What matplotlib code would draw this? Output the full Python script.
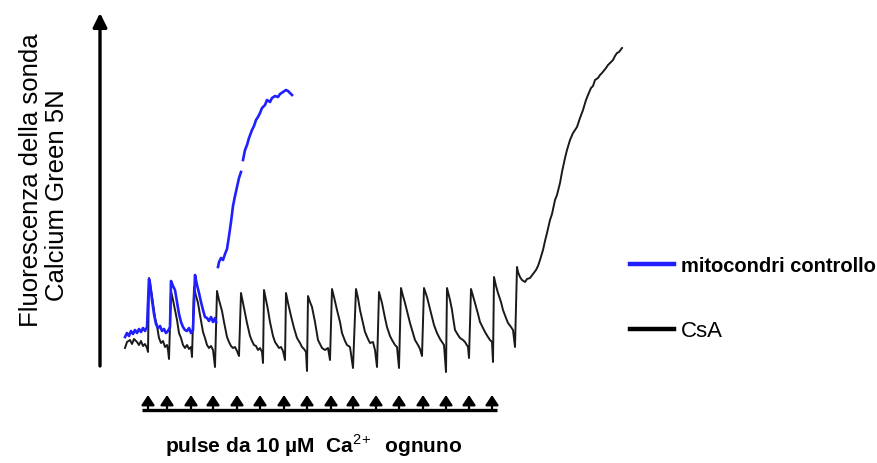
import numpy as np
import matplotlib
matplotlib.use("Agg")
import matplotlib.pyplot as plt
from matplotlib.lines import Line2D

plt.rcParams['font.family'] = ['Liberation Sans', 'DejaVu Sans']
plt.rcParams['mathtext.fontset'] = 'custom'
plt.rcParams['mathtext.rm'] = 'Liberation Sans'
plt.rcParams['mathtext.bf'] = 'Liberation Sans:bold'

# ---- data (time in a.u., fluorescence in a.u.) ----
csa_time = [25, 27, 30, 32, 34, 37, 39, 41, 43, 45, 47, 48,
            49, 50, 52, 53, 55, 57, 59, 61, 63, 65, 67, 68, 69,
            71, 73, 75, 77, 79, 81, 83, 85, 87, 89, 91, 92,
            94, 96, 98, 100, 103, 105, 107, 109, 111, 113, 115,
            117, 119, 122, 124, 127, 129, 131, 133, 135, 137, 139,
            141, 143, 145, 147, 150, 152, 154, 156, 158, 160, 162, 163,
            164, 166, 168, 170, 173, 175, 177, 179, 181, 183, 185,
            186, 188, 191, 194, 197, 200, 202, 204, 206, 207,
            208, 210, 212, 215, 218, 222, 225, 228, 230,
            232, 234, 237, 240, 242, 245, 247, 250, 253,
            256, 258, 260, 263, 265, 268, 270, 273, 275, 277,
            279, 282, 285, 287, 290, 292, 295, 297, 299,
            301, 303, 305, 308, 310, 313, 315, 318, 320, 322,
            324, 327, 329, 332, 334, 337, 340, 342, 344, 346,
            347, 350, 352, 353, 355, 358, 360, 363, 365, 368, 369,
            371, 373, 375, 378, 380, 383, 385, 388, 390, 392, 393,
            394, 396, 398, 401, 403, 406, 408, 411, 413, 415,
            417, 418, 420, 422, 425, 427, 430, 433, 436, 438,
            440, 443, 445, 447, 450, 452, 455, 457, 460, 462,
            465, 467, 470, 473, 477, 480, 483, 486, 488, 491,
            493, 495, 498, 500, 502, 506, 508, 510, 513, 515, 517, 519, 522]
csa_fluo = [18, 24, 26, 22, 27, 24, 21, 25, 20, 22, 18, 14,
            88, 82, 70, 63, 48, 40, 28, 23, 25, 19, 21, 16, 7,
            75, 66, 56, 46, 33, 28, 21, 18, 21, 17, 19, 9,
            79, 70, 63, 51, 34, 28, 21, 18, 20, 16, -1,
            75, 66, 55, 44, 29, 24, 20, 18, 19, 15, 10,
            73, 63, 53, 43, 30, 25, 21, 20, 16, 18, 14, 3,
            76, 66, 56, 44, 30, 24, 21, 18, 19, 15, 6,
            73, 63, 50, 38, 28, 23, 19, 17, 14, -5,
            70, 64, 59, 44, 26, 18, 16, 18, 6,
            77, 69, 56, 44, 33, 25, 21, 19, -2,
            77, 68, 56, 43, 34, 27, 23, 24, 16, -1,
            74, 63, 48, 39, 30, 26, 21, 19, -2,
            78, 70, 63, 51, 43, 33, 26, 21, 17, 10,
            78, 69, 61, 49, 41, 33, 27, 24, 21, -6,
            78, 66, 56, 49, 36, 31, 28, 26, 24, 19, 8,
            77, 70, 63, 52, 44, 38, 34, 29, 26, 24, 4,
            89, 80, 73, 64, 56, 48, 43, 39, 36, 19,
            99, 94, 89, 86, 84, 87, 88, 92, 96, 100,
            106, 116, 125, 133, 146, 152, 166, 171, 183, 194,
            208, 216, 226, 233, 239, 248, 256, 266, 271, 278,
            280, 286, 288, 291, 293, 298, 301, 303, 306, 310, 313, 314, 318]

ctrl_time = [25, 27, 29, 31, 33, 35, 37, 39, 41, 43, 45, 47,
             49, 50, 52, 54, 56, 58, 60, 62, 64, 66, 68, 70,
             71, 73, 75, 77, 79, 81, 83, 85, 87, 89, 91, 93,
             95, 97, 99, 101, 103, 105, 107, 109, 111, 113, 115, 116,
             np.nan,
             118, 119, 121, 123, 125, 127, 129, 131, 133, 135, 137, 139, 141,
             np.nan,
             143, 145, 147, 149, 152, 154, 156, 158, 160, 162, 165, 167,
             170, 172, 175, 178, 180, 183, 186, 188, 190, 192]
ctrl_fluo = [29, 33, 30, 35, 32, 36, 33, 37, 34, 38, 35, 39,
             87, 83, 66, 52, 42, 38, 40, 35, 37, 33, 35, 39,
             85, 80, 76, 64, 52, 44, 39, 36, 35, 38, 33, 36,
             91, 81, 73, 64, 56, 49, 48, 45, 49, 44, 48, 44,
             np.nan,
             99, 104, 108, 106, 112, 117, 130, 144, 160, 170, 179, 188, 194,
             np.nan,
             206, 216, 221, 228, 236, 240, 246, 249, 253, 258, 261, 266,
             264, 268, 270, 269, 272, 274, 276, 275, 273, 271]

pulse_times = [48, 67, 91, 113, 137, 160, 184, 207, 231, 253, 276, 299, 323, 346, 369, 392]

labels = ["mitocondri controllo", "CsA"]
ylabel_lines = ["Fluorescenza della sonda", "Calcium Green 5N"]
pulse_text = r"pulse da 10 µM  Ca$^{2\!+}$  ognuno"

# ---- figure ----
W, H = 877, 463
fig = plt.figure(figsize=(W / 100, H / 100), dpi=100)
ax = fig.add_axes([0, 0, 1, 1])
ax.set_xlim(-100, W - 100)
ax.set_ylim(366 - H, 366)
ax.axis('off')

black = '#1a1a1a'
blue = '#1f1fff'
ax.plot(csa_time, csa_fluo, color=black, lw=1.4, solid_joinstyle='round')
ax.plot(ctrl_time, ctrl_fluo, color=blue, lw=1.9, solid_joinstyle='round')

# y axis arrow
ax.annotate('', xy=(0, 353), xytext=(0, 0),
            arrowprops=dict(arrowstyle='-|>,head_length=0.6,head_width=0.3',
                            lw=2.4, color='black', shrinkA=0, shrinkB=0,
                            mutation_scale=14))

# y label
ax.text(-69, 186, ylabel_lines[0], rotation=90, ha='center', va='center',
        fontsize=18.5, color='black')
ax.text(-43, 171, ylabel_lines[1], rotation=90, ha='center', va='center',
        fontsize=18.5, color='black')

# pulse arrows
base = -44
ax.plot([pulse_times[0] - 6, pulse_times[-1] + 5], [base, base], color='black',
        lw=2.4, solid_capstyle='butt')
for p in pulse_times:
    ax.annotate('', xy=(p, -29), xytext=(p, base),
                arrowprops=dict(arrowstyle='-|>,head_length=0.5,head_width=0.33',
                                lw=1.6, color='black', shrinkA=0, shrinkB=0,
                                mutation_scale=12))

ax.text(214, -87, pulse_text, ha='center', va='baseline', fontsize=15,
        fontweight='bold', color='black')

# legend
handles = [Line2D([], [], color=blue, lw=3.2), Line2D([], [], color='black', lw=3.2)]
leg = ax.legend(handles, labels, loc='upper left', bbox_to_anchor=(0.718, 0.446),
                frameon=False, handlelength=2.0, handletextpad=0.3,
                labelspacing=2.0, fontsize=16, borderpad=0, borderaxespad=0)
t0, t1 = leg.get_texts()
t0.set_fontweight('bold')
t0.set_fontsize(14.5)

fig.savefig('out.png', dpi=100)
